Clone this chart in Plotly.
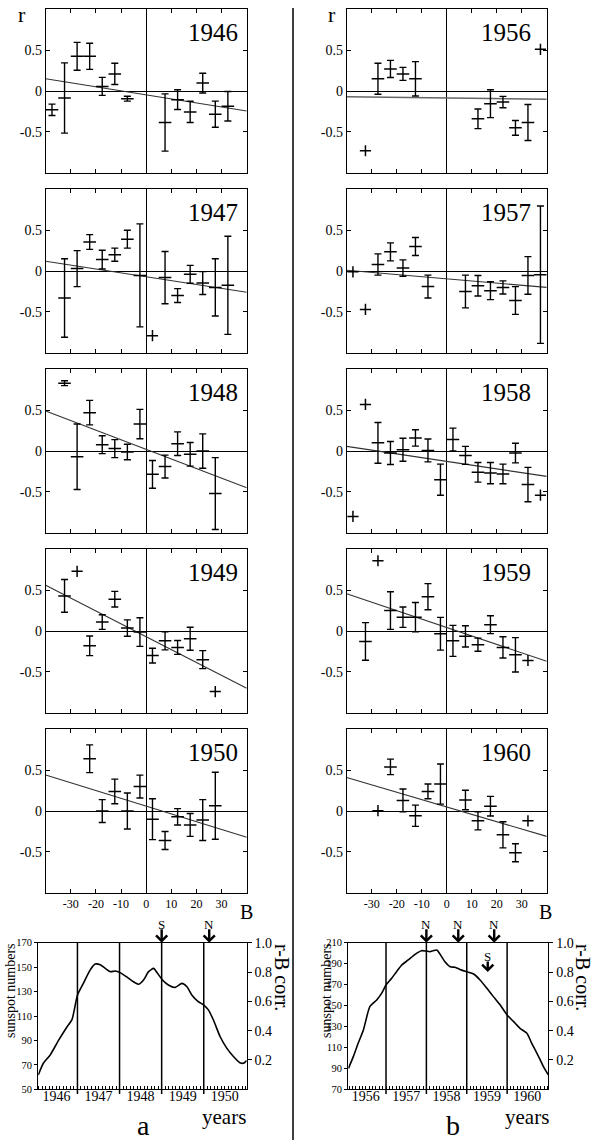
import plotly.graph_objects as go

W, H = 598, 1140
def fx(p): return p / W
def fy(p): return 1 - p / H

FONT = "Liberation Serif"

# ---------------- data: r vs B panels ----------------
B_1946 = [-37.5, -32.5, -27.5, -22.5, -17.5, -12.5, -7.5, 7.5, 12.5, 17.5, 22.5, 27.5, 32.5]
r_1946 = [-0.23, -0.085, 0.425, 0.425, 0.057, 0.21, -0.093, -0.385, -0.105, -0.255, 0.097, -0.283, -0.186]
e_1946 = [0.07, 0.43, 0.17, 0.16, 0.11, 0.13, 0.03, 0.35, 0.12, 0.13, 0.12, 0.16, 0.18]
fit_1946 = [0.15, -0.243]

B_1947 = [-32.5, -27.5, -22.5, -17.5, -12.5, -7.5, -2.5, 2.5, 7.5, 12.5, 17.5, 22.5, 27.5, 32.5]
r_1947 = [-0.33, 0.03, 0.355, 0.14, 0.2, 0.39, -0.053, -0.79, -0.08, -0.3, -0.04, -0.147, -0.2, -0.175]
e_1947 = [0.48, 0.22, 0.09, 0.115, 0.08, 0.11, 0.63, 0, 0.32, 0.085, 0.11, 0.14, 0.35, 0.6]
fit_1947 = [0.12, -0.26]

B_1948 = [-32.5, -27.5, -22.5, -17.5, -12.5, -7.5, -2.5, 2.5, 7.5, 12.5, 17.5, 22.5, 27.5]
r_1948 = [0.83, -0.07, 0.47, 0.078, 0.03, -0.012, 0.33, -0.285, -0.19, 0.09, -0.04, 0.0, -0.52]
e_1948 = [0.03, 0.4, 0.15, 0.11, 0.11, 0.095, 0.18, 0.17, 0.14, 0.145, 0.145, 0.21, 0.44]
fit_1948 = [0.49, -0.45]

B_1949 = [-32.5, -27.5, -22.5, -17.5, -12.5, -7.5, -2.5, 2.5, 7.5, 12.5, 17.5, 22.5, 27.5]
r_1949 = [0.43, 0.73, -0.18, 0.11, 0.39, 0.037, -0.012, -0.3, -0.12, -0.2, -0.094, -0.35, -0.74]
e_1949 = [0.2, 0, 0.12, 0.09, 0.095, 0.1, 0.175, 0.09, 0.11, 0.085, 0.14, 0.11, 0]
fit_1949 = [0.56, -0.70]

B_1950 = [-22.5, -17.5, -12.5, -7.5, -2.5, 2.5, 7.5, 12.5, 17.5, 22.5, 27.5]
r_1950 = [0.64, 0.0, 0.24, 0.0, 0.3, -0.1, -0.36, -0.07, -0.17, -0.11, 0.065]
e_1950 = [0.17, 0.14, 0.15, 0.22, 0.14, 0.25, 0.11, 0.1, 0.14, 0.25, 0.41]
fit_1950 = [0.44, -0.32]

B_1956 = [-32.5, -27.5, -22.5, -17.5, -12.5, 12.5, 17.5, 22.5, 27.5, 32.5, 37.5]
r_1956 = [-0.73, 0.15, 0.27, 0.21, 0.15, -0.34, -0.155, -0.135, -0.45, -0.385, 0.51]
e_1956 = [0, 0.19, 0.105, 0.08, 0.21, 0.12, 0.17, 0.07, 0.09, 0.22, 0]
fit_1956 = [-0.07, -0.10]

B_1957 = [-37.5, -32.5, -27.5, -22.5, -17.5, -12.5, -7.5, 7.5, 12.5, 17.5, 22.5, 27.5, 32.5, 37.5]
r_1957 = [-0.01, -0.47, 0.08, 0.235, 0.037, 0.3, -0.19, -0.25, -0.18, -0.24, -0.2, -0.36, -0.054, -0.045]
e_1957 = [0, 0, 0.13, 0.11, 0.1, 0.11, 0.14, 0.2, 0.125, 0.11, 0.08, 0.17, 0.23, 0.84]
fit_1957 = [0.01, -0.2]

B_1958 = [-37.5, -32.5, -27.5, -22.5, -17.5, -12.5, -7.5, -2.5, 2.5, 7.5, 12.5, 17.5, 22.5, 27.5, 32.5, 37.5]
r_1958 = [-0.8, 0.57, 0.1, -0.024, 0.016, 0.16, 0.008, -0.35, 0.14, -0.053, -0.26, -0.27, -0.28, -0.025, -0.41, -0.54]
e_1958 = [0, 0, 0.25, 0.14, 0.14, 0.1, 0.14, 0.19, 0.14, 0.11, 0.12, 0.13, 0.12, 0.12, 0.21, 0]
fit_1958 = [0.057, -0.31]

B_1959 = [-32.5, -27.5, -22.5, -17.5, -12.5, -7.5, -2.5, 2.5, 7.5, 12.5, 17.5, 22.5, 27.5, 32.5]
r_1959 = [-0.127, 0.86, 0.25, 0.17, 0.17, 0.42, -0.033, -0.12, -0.065, -0.167, 0.078, -0.2, -0.29, -0.36]
e_1959 = [0.23, 0, 0.23, 0.125, 0.18, 0.16, 0.2, 0.19, 0.13, 0.08, 0.11, 0.13, 0.21, 0]
fit_1959 = [0.457, -0.37]

B_1960 = [-27.5, -22.5, -17.5, -12.5, -7.5, -2.5, 7.5, 12.5, 17.5, 22.5, 27.5, 32.5]
r_1960 = [0.005, 0.54, 0.13, -0.057, 0.24, 0.33, 0.135, -0.12, 0.06, -0.29, -0.51, -0.12]
e_1960 = [0, 0.095, 0.14, 0.13, 0.09, 0.245, 0.12, 0.11, 0.12, 0.16, 0.11, 0]
fit_1960 = [0.41, -0.31]

fit_B = [-40, 40]
B_ticks = [-30, -20, -10, 0, 10, 20, 30]
r_ticks = [-0.5, 0, 0.5]
r_ticktext = ["-0.5", "0", "0.5"]

# ---------------- data: sunspot curves ----------------
t_left = [1946.07, 1946.19, 1946.35, 1946.55, 1946.75, 1946.87, 1947.0, 1947.14, 1947.3, 1947.42,
          1947.54, 1947.66, 1947.78, 1947.9, 1948.01, 1948.17, 1948.33, 1948.45, 1948.57, 1948.69,
          1948.81, 1948.88, 1949.02, 1949.16, 1949.32, 1949.48, 1949.6, 1949.72, 1949.87, 1950.0,
          1950.11, 1950.23, 1950.39, 1950.55, 1950.71, 1950.86, 1950.94, 1951.02]
ssn_left = [61.7, 71.3, 78, 90, 101, 107, 127, 136.7, 147.6, 152.5,
            152, 149, 146.3, 146.8, 145.5, 142, 138, 136, 139.5, 146.3,
            149, 146, 139.5, 135.4, 133.4, 136.7, 134, 127, 121.7, 119,
            115, 106.7, 93, 83.5, 76.7, 71.8, 71.3, 73.5]

t_right = [1956.07, 1956.19, 1956.31, 1956.44, 1956.6, 1956.77, 1956.89, 1957.0, 1957.14, 1957.26,
           1957.39, 1957.55, 1957.72, 1957.88, 1957.99, 1958.09, 1958.17, 1958.26, 1958.34, 1958.46,
           1958.59, 1958.71, 1958.83, 1959.0, 1959.17, 1959.33, 1959.5, 1959.66, 1959.83, 1960.0,
           1960.16, 1960.32, 1960.49, 1960.61, 1960.78, 1960.9, 1961.02]
ssn_right = [90, 101.2, 113.9, 126.6, 148.9, 155.3, 161.6, 169.6, 176, 182.3,
             188.7, 193.5, 198.9, 202.4, 202, 201.4, 202.4, 203, 198.9, 191.9,
             187.1, 186.5, 184.5, 182.3, 180.1, 174.4, 166.4, 158.5, 150.5, 141,
             134.6, 128.2, 123.5, 113.9, 101.2, 91.6, 83.7]

years_left = [1946, 1947, 1948, 1949, 1950]
years_right = [1956, 1957, 1958, 1959, 1960]
ssn_ticks_left = [50, 70, 90, 110, 130, 150, 170]
ssn_ticks_right = [70, 90, 110, 130, 150, 170, 190, 210]
corr_ticks = [0.2, 0.4, 0.6, 0.8, 1.0]
corr_ticktext = ["0.2", "0.4", "0.6", "0.8", "1.0"]

events_left = [("S", 1949.0), ("N", 1950.13)]
events_right_top = [("N", 1958.0), ("N", 1958.79), ("N", 1959.68)]
events_right_low = [("S", 1959.52)]

panels_left = [(1946, B_1946, r_1946, e_1946, fit_1946),
               (1947, B_1947, r_1947, e_1947, fit_1947),
               (1948, B_1948, r_1948, e_1948, fit_1948),
               (1949, B_1949, r_1949, e_1949, fit_1949),
               (1950, B_1950, r_1950, e_1950, fit_1950)]
panels_right = [(1956, B_1956, r_1956, e_1956, fit_1956),
                (1957, B_1957, r_1957, e_1957, fit_1957),
                (1958, B_1958, r_1958, e_1958, fit_1958),
                (1959, B_1959, r_1959, e_1959, fit_1959),
                (1960, B_1960, r_1960, e_1960, fit_1960)]

# ---------------- figure ----------------
fig = go.Figure()
layout = {}
annotations = []
shapes = []

def txt(x, y, text, size, angle=0):
    return dict(x=fx(x), y=fy(y), xref="paper", yref="paper", text=text, textangle=angle,
                xanchor="center", yanchor="middle", showarrow=False,
                font=dict(family=FONT, size=size, color="black"))

col_x = [(45.7, 246.7), (346.7, 546.7)]
row_top = [9.3, 189.3, 369.3, 549.3, 729.3]
PH = 163.5
label_x = [0.965, 0.93]

def axname(i):
    return ("x", "y") if i == 1 else (f"x{i}", f"y{i}")

idx = 0
for c, col in enumerate([panels_left, panels_right]):
    for ri, (year, B, r, e, fit) in enumerate(col):
        idx += 1
        xa, ya = axname(idx)
        lc = "#666666" if year == 1956 else "#333333"
        lw = 1.6 if year == 1956 else 1.1
        fig.add_trace(go.Scatter(x=fit_B, y=fit, mode="lines", line=dict(color=lc, width=lw),
                                 xaxis=xa, yaxis=ya, showlegend=False, hoverinfo="skip"))
        bx = [b for b, ee in zip(B, e) if ee > 0]
        by = [v for v, ee in zip(r, e) if ee > 0]
        be = [ee for ee in e if ee > 0]
        fig.add_trace(go.Scatter(x=bx, y=by, mode="markers",
                                 marker=dict(symbol="line-ew", size=9, color="black",
                                             line=dict(color="black", width=1.5)),
                                 error_y=dict(type="data", array=be, visible=True, color="black",
                                              thickness=1.4, width=3.5),
                                 xaxis=xa, yaxis=ya, showlegend=False))
        px_ = [b for b, ee in zip(B, e) if ee == 0]
        py_ = [v for v, ee in zip(r, e) if ee == 0]
        if px_:
            fig.add_trace(go.Scatter(x=px_, y=py_, mode="markers",
                                     marker=dict(symbol="cross-thin", size=8, color="black",
                                                 line=dict(color="black", width=1.5)),
                                     xaxis=xa, yaxis=ya, showlegend=False))
        x0, x1 = col_x[c]
        top = row_top[ri]
        common = dict(showline=True, linecolor="black", linewidth=1, mirror="ticks",
                      ticks="inside", ticklen=4, tickcolor="black", tickwidth=1,
                      zeroline=True, zerolinecolor="black", zerolinewidth=1.2,
                      showgrid=False, fixedrange=True, automargin=False)
        layout["xaxis" if idx == 1 else f"xaxis{idx}"] = dict(
            domain=[fx(x0), fx(x1)], range=[-40, 40], anchor=ya,
            tickmode="array", tickvals=B_ticks, ticktext=[str(t) for t in B_ticks],
            showticklabels=(ri == 4), tickfont=dict(family=FONT, size=12, color="black"),
            **common)
        layout["yaxis" if idx == 1 else f"yaxis{idx}"] = dict(
            domain=[fy(top + PH), fy(top)], range=[-1.0, 1.0], anchor=xa,
            tickmode="array", tickvals=r_ticks, ticktext=r_ticktext,
            tickfont=dict(family=FONT, size=14, color="black"),
            **common)
        annotations.append(dict(text=str(year), xref=f"{xa} domain", yref=f"{ya} domain",
                                x=label_x[c], y=0.86, xanchor="right", yanchor="middle",
                                showarrow=False, font=dict(family=FONT, size=25, color="black")))

# ---------------- bottom sunspot panels ----------------
bottom = [
    dict(t=t_left, s=ssn_left, years=years_left, ticks=ssn_ticks_left, x0=38.3, x1=246.7,
         xr=[1946.07, 1951.02], yr=[50, 170], top_ev=events_left, low_ev=[], letter="a",
         ylab_x=10, corr_x=282, years_x=224, letter_x=143),
    dict(t=t_right, s=ssn_right, years=years_right, ticks=ssn_ticks_right, x0=348.3, x1=548.3,
         xr=[1956.066, 1961.02], yr=[70, 210], top_ev=events_right_top, low_ev=events_right_low,
         letter="b", ylab_x=326, corr_x=583, years_x=527, letter_x=453),
]
BT, BB = 942.7, 1089.3
for k, bp in enumerate(bottom):
    idx += 1
    xa, ya = axname(idx)
    ya2 = f"y{idx + 1}"
    fig.add_trace(go.Scatter(x=bp["t"], y=bp["s"], mode="lines",
                             line=dict(color="black", width=1.6, shape="spline", smoothing=0.6),
                             xaxis=xa, yaxis=ya, showlegend=False))
    fig.add_trace(go.Scatter(x=[None], y=[None], mode="markers", xaxis=xa, yaxis=ya2,
                             showlegend=False, hoverinfo="skip"))
    layout[f"xaxis{idx}"] = dict(
        domain=[fx(bp["x0"]), fx(bp["x1"])], range=bp["xr"], anchor=ya,
        tickmode="array", tickvals=[y + 0.5 for y in bp["years"]],
        ticktext=[str(y) for y in bp["years"]], ticks="", ticklabelstandoff=-6,
        tickfont=dict(family=FONT, size=14, color="black"),
        showline=True, linecolor="black", linewidth=1.2, mirror=True,
        showgrid=False, zeroline=False, fixedrange=True, automargin=False,
        minor=dict(ticks="inside", ticklen=3, tickcolor="black", tick0=bp["years"][0],
                   dtick=1 / 12, showgrid=False))
    layout[f"yaxis{idx}"] = dict(
        domain=[fy(BB), fy(BT)], range=bp["yr"], anchor=xa,
        tickmode="array", tickvals=bp["ticks"], ticktext=[str(v) for v in bp["ticks"]],
        ticks="outside", ticklen=3, tickcolor="black",
        tickfont=dict(family=FONT, size=10.5, color="black"),
        showline=True, linecolor="black", linewidth=1.2, showgrid=False, zeroline=False,
        fixedrange=True, automargin=False)
    layout[f"yaxis{idx + 1}"] = dict(
        overlaying=ya, side="right", anchor=xa, range=[0, 1.0],
        tickmode="array", tickvals=corr_ticks, ticktext=corr_ticktext,
        ticks="outside", ticklen=4, tickcolor="black",
        tickfont=dict(family=FONT, size=14, color="black"),
        showline=True, linecolor="black", linewidth=1.2, showgrid=False, zeroline=False,
        fixedrange=True, automargin=False)
    for yb in bp["years"][1:]:
        shapes.append(dict(type="line", xref=xa, yref="paper", x0=yb, x1=yb,
                           y0=fy(1094), y1=fy(BT), line=dict(color="black", width=1.5)))
    for lab, tt in bp["top_ev"]:
        annotations.append(dict(x=tt, y=fy(BT), xref=xa, yref="paper", text="", showarrow=True,
                                arrowhead=4, arrowsize=0.9, arrowwidth=2.4, arrowcolor="black",
                                ax=0, ay=-15))
        annotations.append(dict(x=tt, y=fy(924), xref=xa, yref="paper", text=lab, showarrow=False,
                                xanchor="center", yanchor="middle",
                                font=dict(family=FONT, size=13, color="black")))
    for lab, tt in bp["low_ev"]:
        annotations.append(dict(x=tt, y=fy(972), xref=xa, yref="paper", text="", showarrow=True,
                                arrowhead=4, arrowsize=0.9, arrowwidth=2.4, arrowcolor="black",
                                ax=0, ay=-12))
        annotations.append(dict(x=tt, y=fy(956), xref=xa, yref="paper", text=lab, showarrow=False,
                                xanchor="center", yanchor="middle",
                                font=dict(family=FONT, size=13, color="black")))
    annotations.append(txt(bp["ylab_x"], 991, "sunspot numbers", 14, -90))
    annotations.append(txt(bp["corr_x"], 977, "r-B corr.", 20, 90))
    annotations.append(txt(bp["years_x"], 1117, "years", 21))
    annotations.append(txt(bp["letter_x"], 1125, bp["letter"], 28))
    idx += 1

# axis-name labels
for xpos in (22, 332):
    annotations.append(txt(xpos, 14, "r", 22))
for xpos in (246, 545):
    annotations.append(txt(xpos, 912, "B", 20))

# column divider
shapes.append(dict(type="line", xref="paper", yref="paper", x0=fx(293), x1=fx(293),
                   y0=fy(8), y1=fy(1140), line=dict(color="black", width=1.5)))

fig.update_layout(width=W, height=H, margin=dict(l=0, r=0, t=0, b=0, autoexpand=False),
                  paper_bgcolor="white", plot_bgcolor="white", showlegend=False,
                  annotations=annotations, shapes=shapes, **layout)
fig.write_html("out.html")
